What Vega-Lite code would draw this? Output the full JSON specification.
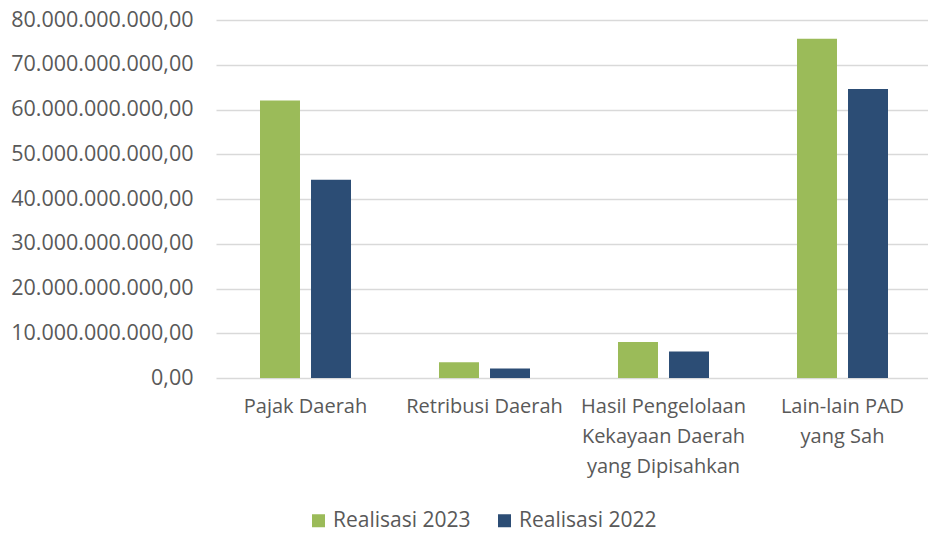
{
  "$schema": "https://vega.github.io/schema/vega-lite/v6.json",
  "width": 708,
  "height": 358,
  "autosize": {"type": "none"},
  "padding": {"left": 217, "top": 20, "right": 3, "bottom": 155},
  "background": "white",
  "config": {
    "view": {"stroke": null},
    "font": "Open Sans",
    "axis": {"labelFont": "Open Sans", "labelColor": "#595959", "labelFontSize": 20},
    "legend": {"labelFont": "Open Sans", "labelColor": "#595959", "labelFontSize": 21}
  },
  "data": {
    "values": [
      {"kategori": "Pajak Daerah", "seri": "Realisasi 2023", "nilai": 62000000000},
      {"kategori": "Pajak Daerah", "seri": "Realisasi 2022", "nilai": 44300000000},
      {"kategori": "Retribusi Daerah", "seri": "Realisasi 2023", "nilai": 3500000000},
      {"kategori": "Retribusi Daerah", "seri": "Realisasi 2022", "nilai": 2100000000},
      {"kategori": "Hasil Pengelolaan|Kekayaan Daerah|yang Dipisahkan", "seri": "Realisasi 2023", "nilai": 8050000000},
      {"kategori": "Hasil Pengelolaan|Kekayaan Daerah|yang Dipisahkan", "seri": "Realisasi 2022", "nilai": 5900000000},
      {"kategori": "Lain-lain PAD|yang Sah", "seri": "Realisasi 2023", "nilai": 75800000000},
      {"kategori": "Lain-lain PAD|yang Sah", "seri": "Realisasi 2022", "nilai": 64600000000}
    ]
  },
  "mark": {"type": "bar"},
  "encoding": {
    "x": {
      "field": "kategori",
      "type": "nominal",
      "sort": null,
      "title": null,
      "scale": {"range": [-1, 715], "paddingInner": 0.4916, "paddingOuter": 0.2458},
      "axis": {
        "labelAngle": 0,
        "labelExpr": "split(datum.value, '|')",
        "labelLineHeight": 30,
        "labelPadding": 18,
        "labelBaseline": "top",
        "ticks": false,
        "domain": false,
        "labelLimit": 300
      }
    },
    "xOffset": {
      "field": "seri",
      "type": "nominal",
      "sort": ["Realisasi 2023", "Realisasi 2022"],
      "scale": {"paddingInner": 0.216, "paddingOuter": 0}
    },
    "y": {
      "field": "nilai",
      "type": "quantitative",
      "title": null,
      "scale": {"domain": [0, 80000000000], "nice": false},
      "axis": {
        "values": [0, 10000000000, 20000000000, 30000000000, 40000000000, 50000000000, 60000000000, 70000000000, 80000000000],
        "labelExpr": "datum.value == 0 ? '0,00' : format(datum.value / 1e9, 'd') + '.000.000.000,00'",
        "labelFontSize": 21.5,
        "labelLimit": 400,
        "ticks": false,
        "domain": false,
        "labelPadding": 24,
        "gridColor": "#d9d9d9",
        "gridWidth": 1.5
      }
    },
    "color": {
      "field": "seri",
      "type": "nominal",
      "sort": ["Realisasi 2023", "Realisasi 2022"],
      "scale": {"domain": ["Realisasi 2023", "Realisasi 2022"], "range": ["#9BBB59", "#2C4D75"]},
      "legend": {
        "title": null,
        "orient": "none",
        "direction": "horizontal",
        "legendX": 91,
        "legendY": 490,
        "symbolType": "square",
        "symbolSize": 169,
        "symbolStrokeWidth": 0,
        "columnPadding": 23,
        "labelOffset": 4
      }
    }
  }
}
